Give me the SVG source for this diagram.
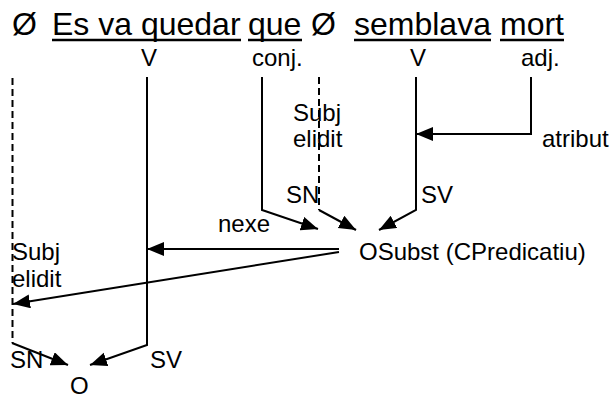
<svg xmlns="http://www.w3.org/2000/svg" width="612" height="399" viewBox="0 0 612 399">
<style>
text{font-family:"Liberation Sans",Arial,sans-serif;fill:#000}
.big{font-size:32px}
.sm{font-size:24px}
.ul{stroke:#000;stroke-width:2.5}
.ln{fill:none;stroke:#000;stroke-width:2}
.ds{fill:none;stroke:#000;stroke-width:2;stroke-dasharray:7,4}
</style>
<defs>
<marker id="ah" markerUnits="userSpaceOnUse" markerWidth="18" markerHeight="15" refX="17" refY="7" orient="auto">
<path d="M0,0 L17,7 L0,14 z" fill="#000"/>
</marker>
</defs>
<rect width="612" height="399" fill="#fff"/>
<g id="sentence">
<text class="big" x="12" y="35">Ø</text>
<text class="big" x="52" y="35">Es va quedar</text>
<line class="ul" x1="52" y1="40" x2="241" y2="40"/>
<text class="big" x="248" y="35">que</text>
<line class="ul" x1="248" y1="40" x2="302" y2="40"/>
<text class="big" x="311" y="35">Ø</text>
<text class="big" x="354" y="35">semblava</text>
<line class="ul" x1="354" y1="40" x2="491" y2="40"/>
<text class="big" x="500" y="35">mort</text>
<line class="ul" x1="500" y1="40" x2="564" y2="40"/>
</g>
<g id="labels">
<text class="sm" x="141" y="66">V</text>
<text class="sm" x="252" y="66">conj.</text>
<text class="sm" x="410" y="66">V</text>
<text class="sm" x="521" y="66">adj.</text>
</g>
<g id="subj-mid">
<text class="sm" x="293" y="121">Subj</text>
<text class="sm" x="293" y="147">elidit</text>
</g>
<g id="atribut"><text class="sm" x="542" y="147">atribut</text></g>
<g id="sn-mid"><text class="sm" x="286" y="203">SN</text></g>
<g id="sv-mid"><text class="sm" x="421" y="203">SV</text></g>
<g id="nexe"><text class="sm" x="218" y="232">nexe</text></g>
<g id="osubst"><text class="sm" x="359" y="260">OSubst (CPredicatiu)</text></g>
<g id="subj-left">
<text class="sm" x="12" y="260">Subj</text>
<text class="sm" x="12" y="287">elidit</text>
</g>
<g id="sn-bottom"><text class="sm" x="10" y="368">SN</text></g>
<g id="sv-bottom"><text class="sm" x="150" y="368">SV</text></g>
<g id="o"><text class="sm" x="70" y="394">O</text></g>
<g id="connectors">
<line class="ds" x1="319" y1="77" x2="319" y2="210"/>
<line class="ln" x1="319" y1="210" x2="356" y2="230" marker-end="url(#ah)"/>
<polyline class="ln" points="262,77 262,210 318,229" marker-end="url(#ah)"/>
<polyline class="ln" points="416,77 416,210 379,230" marker-end="url(#ah)"/>
<polyline class="ln" points="531,77 531,134 416,134" marker-end="url(#ah)"/>
<line class="ln" x1="339" y1="249" x2="147" y2="249" marker-end="url(#ah)"/>
<line class="ln" x1="339" y1="252" x2="13" y2="304" marker-end="url(#ah)"/>
<line class="ds" x1="12.5" y1="78" x2="12.5" y2="343"/>
<line class="ln" x1="12" y1="343" x2="68" y2="365" marker-end="url(#ah)"/>
<polyline class="ln" points="147,77 147,345 90,365" marker-end="url(#ah)"/>
</g>
</svg>
